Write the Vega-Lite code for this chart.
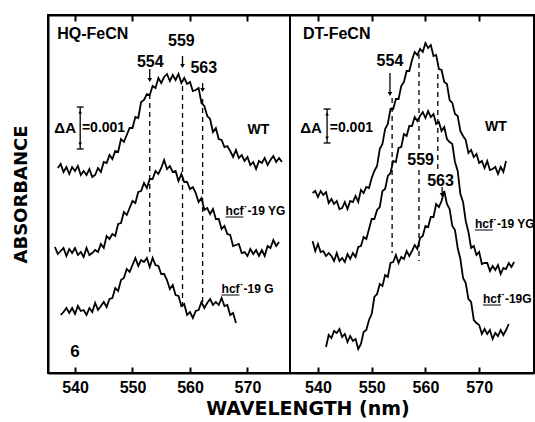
{
"$schema": "https://vega.github.io/schema/vega-lite/v6.json",
"padding": {"left": 11, "top": 13, "right": 0, "bottom": 0},
"background": "white",
"config": {"view": {"stroke": "black", "strokeWidth": 2}},
"spacing": 0,
"bounds": "flush",
"datasets": {
"Lspec": [
{"s":"WT","w":537,"a":205},{"s":"WT","w":537.5,"a":209},{"s":"WT","w":538,"a":201},{"s":"WT","w":538.5,"a":206},{"s":"WT","w":539,"a":199},{"s":"WT","w":539.5,"a":206},{"s":"WT","w":540,"a":202},{"s":"WT","w":540.5,"a":207},{"s":"WT","w":541,"a":198},{"s":"WT","w":541.5,"a":202},{"s":"WT","w":542,"a":198},{"s":"WT","w":542.5,"a":204},{"s":"WT","w":543,"a":196},{"s":"WT","w":543.5,"a":198},{"s":"WT","w":544,"a":205},{"s":"WT","w":544.5,"a":201},{"s":"WT","w":545,"a":211},{"s":"WT","w":545.5,"a":210},{"s":"WT","w":546,"a":218},{"s":"WT","w":546.5,"a":214},{"s":"WT","w":547,"a":222},{"s":"WT","w":547.5,"a":221},{"s":"WT","w":548,"a":234},{"s":"WT","w":548.5,"a":231},{"s":"WT","w":549,"a":238},{"s":"WT","w":549.5,"a":245},{"s":"WT","w":550,"a":245},{"s":"WT","w":550.5,"a":256},{"s":"WT","w":551,"a":255},{"s":"WT","w":551.5,"a":271},{"s":"WT","w":552,"a":273},{"s":"WT","w":552.5,"a":279},{"s":"WT","w":553,"a":278},{"s":"WT","w":553.5,"a":287},{"s":"WT","w":554,"a":285},{"s":"WT","w":554.5,"a":295},{"s":"WT","w":555,"a":290},{"s":"WT","w":555.5,"a":296},{"s":"WT","w":556,"a":299},{"s":"WT","w":556.5,"a":292},{"s":"WT","w":557,"a":298},{"s":"WT","w":557.5,"a":293},{"s":"WT","w":558,"a":299},{"s":"WT","w":558.5,"a":290},{"s":"WT","w":559,"a":295},{"s":"WT","w":559.5,"a":289},{"s":"WT","w":560,"a":291},{"s":"WT","w":560.5,"a":282},{"s":"WT","w":561,"a":283},{"s":"WT","w":561.5,"a":285},{"s":"WT","w":562,"a":270},{"s":"WT","w":562.5,"a":267},{"s":"WT","w":563,"a":257},{"s":"WT","w":563.5,"a":254},{"s":"WT","w":564,"a":241},{"s":"WT","w":564.5,"a":245},{"s":"WT","w":565,"a":234},{"s":"WT","w":565.5,"a":233},{"s":"WT","w":566,"a":226},{"s":"WT","w":566.5,"a":227},{"s":"WT","w":567,"a":222},{"s":"WT","w":567.5,"a":216},{"s":"WT","w":568,"a":223},{"s":"WT","w":568.5,"a":215},{"s":"WT","w":569,"a":218},{"s":"WT","w":569.5,"a":212},{"s":"WT","w":570,"a":216},{"s":"WT","w":570.5,"a":208},{"s":"WT","w":571,"a":211},{"s":"WT","w":571.5,"a":204},{"s":"WT","w":572,"a":212},{"s":"WT","w":572.5,"a":210},{"s":"WT","w":573,"a":215},{"s":"WT","w":573.5,"a":208},{"s":"WT","w":574,"a":213},{"s":"WT","w":574.5,"a":217},{"s":"WT","w":575,"a":211},{"s":"WT","w":575.5,"a":215},{"s":"WT","w":576,"a":211},
{"s":"YG","w":536.5,"a":126},{"s":"YG","w":537,"a":119},{"s":"YG","w":537.5,"a":122},{"s":"YG","w":538,"a":125},{"s":"YG","w":538.5,"a":117},{"s":"YG","w":539,"a":124},{"s":"YG","w":539.5,"a":120},{"s":"YG","w":540,"a":125},{"s":"YG","w":540.5,"a":118},{"s":"YG","w":541,"a":121},{"s":"YG","w":541.5,"a":116},{"s":"YG","w":542,"a":125},{"s":"YG","w":542.5,"a":118},{"s":"YG","w":543,"a":120},{"s":"YG","w":543.5,"a":123},{"s":"YG","w":544,"a":121},{"s":"YG","w":544.5,"a":129},{"s":"YG","w":545,"a":125},{"s":"YG","w":545.5,"a":137},{"s":"YG","w":546,"a":134},{"s":"YG","w":546.5,"a":139},{"s":"YG","w":547,"a":137},{"s":"YG","w":547.5,"a":149},{"s":"YG","w":548,"a":150},{"s":"YG","w":548.5,"a":161},{"s":"YG","w":549,"a":158},{"s":"YG","w":549.5,"a":165},{"s":"YG","w":550,"a":172},{"s":"YG","w":550.5,"a":170},{"s":"YG","w":551,"a":181},{"s":"YG","w":551.5,"a":182},{"s":"YG","w":552,"a":190},{"s":"YG","w":552.5,"a":185},{"s":"YG","w":553,"a":194},{"s":"YG","w":553.5,"a":194},{"s":"YG","w":554,"a":202},{"s":"YG","w":554.5,"a":199},{"s":"YG","w":555,"a":205},{"s":"YG","w":555.5,"a":213},{"s":"YG","w":556,"a":204},{"s":"YG","w":556.5,"a":207},{"s":"YG","w":557,"a":201},{"s":"YG","w":557.5,"a":202},{"s":"YG","w":558,"a":192},{"s":"YG","w":558.5,"a":199},{"s":"YG","w":559,"a":191},{"s":"YG","w":559.5,"a":191},{"s":"YG","w":560,"a":184},{"s":"YG","w":560.5,"a":186},{"s":"YG","w":561,"a":180},{"s":"YG","w":561.5,"a":171},{"s":"YG","w":562,"a":175},{"s":"YG","w":562.5,"a":163},{"s":"YG","w":563,"a":165},{"s":"YG","w":563.5,"a":159},{"s":"YG","w":564,"a":164},{"s":"YG","w":564.5,"a":154},{"s":"YG","w":565,"a":154},{"s":"YG","w":565.5,"a":144},{"s":"YG","w":566,"a":147},{"s":"YG","w":566.5,"a":139},{"s":"YG","w":567,"a":138},{"s":"YG","w":567.5,"a":127},{"s":"YG","w":568,"a":128},{"s":"YG","w":568.5,"a":129},{"s":"YG","w":569,"a":120},{"s":"YG","w":569.5,"a":121},{"s":"YG","w":570,"a":117},{"s":"YG","w":570.5,"a":124},{"s":"YG","w":571,"a":119},{"s":"YG","w":571.5,"a":123},{"s":"YG","w":572,"a":117},{"s":"YG","w":572.5,"a":123},{"s":"YG","w":573,"a":117},{"s":"YG","w":573.5,"a":127},{"s":"YG","w":574,"a":125},{"s":"YG","w":574.5,"a":133},{"s":"YG","w":575,"a":127},{"s":"YG","w":575.5,"a":131},
{"s":"G","w":537.5,"a":58},{"s":"G","w":538,"a":61},{"s":"G","w":538.5,"a":65},{"s":"G","w":539,"a":60},{"s":"G","w":539.5,"a":65},{"s":"G","w":540,"a":59},{"s":"G","w":540.5,"a":67},{"s":"G","w":541,"a":62},{"s":"G","w":541.5,"a":63},{"s":"G","w":542,"a":58},{"s":"G","w":542.5,"a":65},{"s":"G","w":543,"a":61},{"s":"G","w":543.5,"a":70},{"s":"G","w":544,"a":63},{"s":"G","w":544.5,"a":67},{"s":"G","w":545,"a":71},{"s":"G","w":545.5,"a":66},{"s":"G","w":546,"a":74},{"s":"G","w":546.5,"a":75},{"s":"G","w":547,"a":85},{"s":"G","w":547.5,"a":82},{"s":"G","w":548,"a":93},{"s":"G","w":548.5,"a":95},{"s":"G","w":549,"a":104},{"s":"G","w":549.5,"a":101},{"s":"G","w":550,"a":108},{"s":"G","w":550.5,"a":115},{"s":"G","w":551,"a":107},{"s":"G","w":551.5,"a":113},{"s":"G","w":552,"a":111},{"s":"G","w":552.5,"a":115},{"s":"G","w":553,"a":106},{"s":"G","w":553.5,"a":115},{"s":"G","w":554,"a":108},{"s":"G","w":554.5,"a":107},{"s":"G","w":555,"a":99},{"s":"G","w":555.5,"a":99},{"s":"G","w":556,"a":93},{"s":"G","w":556.5,"a":84},{"s":"G","w":557,"a":88},{"s":"G","w":557.5,"a":78},{"s":"G","w":558,"a":77},{"s":"G","w":558.5,"a":67},{"s":"G","w":559,"a":69},{"s":"G","w":559.5,"a":58},{"s":"G","w":560,"a":61},{"s":"G","w":560.5,"a":55},{"s":"G","w":561,"a":62},{"s":"G","w":561.5,"a":63},{"s":"G","w":562,"a":71},{"s":"G","w":562.5,"a":65},{"s":"G","w":563,"a":70},{"s":"G","w":563.5,"a":74},{"s":"G","w":564,"a":68},{"s":"G","w":564.5,"a":71},{"s":"G","w":565,"a":68},{"s":"G","w":565.5,"a":75},{"s":"G","w":566,"a":67},{"s":"G","w":566.5,"a":68},{"s":"G","w":567,"a":58},{"s":"G","w":567.5,"a":60},{"s":"G","w":568,"a":50}
],
"Rspec": [
{"s":"WT","w":539,"a":180},{"s":"WT","w":539.5,"a":182},{"s":"WT","w":540,"a":176},{"s":"WT","w":540.5,"a":182},{"s":"WT","w":541,"a":178},{"s":"WT","w":541.5,"a":181},{"s":"WT","w":542,"a":170},{"s":"WT","w":542.5,"a":174},{"s":"WT","w":543,"a":169},{"s":"WT","w":543.5,"a":172},{"s":"WT","w":544,"a":164},{"s":"WT","w":544.5,"a":165},{"s":"WT","w":545,"a":171},{"s":"WT","w":545.5,"a":164},{"s":"WT","w":546,"a":172},{"s":"WT","w":546.5,"a":171},{"s":"WT","w":547,"a":177},{"s":"WT","w":547.5,"a":171},{"s":"WT","w":548,"a":183},{"s":"WT","w":548.5,"a":180},{"s":"WT","w":549,"a":186},{"s":"WT","w":549.5,"a":185},{"s":"WT","w":550,"a":195},{"s":"WT","w":550.5,"a":202},{"s":"WT","w":551,"a":207},{"s":"WT","w":551.5,"a":224},{"s":"WT","w":552,"a":229},{"s":"WT","w":552.5,"a":244},{"s":"WT","w":553,"a":249},{"s":"WT","w":553.5,"a":264},{"s":"WT","w":554,"a":264},{"s":"WT","w":554.5,"a":274},{"s":"WT","w":555,"a":274},{"s":"WT","w":555.5,"a":287},{"s":"WT","w":556,"a":291},{"s":"WT","w":556.5,"a":302},{"s":"WT","w":557,"a":302},{"s":"WT","w":557.5,"a":313},{"s":"WT","w":558,"a":321},{"s":"WT","w":558.5,"a":318},{"s":"WT","w":559,"a":324},{"s":"WT","w":559.5,"a":321},{"s":"WT","w":560,"a":330},{"s":"WT","w":560.5,"a":325},{"s":"WT","w":561,"a":328},{"s":"WT","w":561.5,"a":317},{"s":"WT","w":562,"a":318},{"s":"WT","w":562.5,"a":304},{"s":"WT","w":563,"a":303},{"s":"WT","w":563.5,"a":291},{"s":"WT","w":564,"a":289},{"s":"WT","w":564.5,"a":273},{"s":"WT","w":565,"a":270},{"s":"WT","w":565.5,"a":259},{"s":"WT","w":566,"a":257},{"s":"WT","w":566.5,"a":242},{"s":"WT","w":567,"a":237},{"s":"WT","w":567.5,"a":233},{"s":"WT","w":568,"a":220},{"s":"WT","w":568.5,"a":223},{"s":"WT","w":569,"a":216},{"s":"WT","w":569.5,"a":219},{"s":"WT","w":570,"a":210},{"s":"WT","w":570.5,"a":212},{"s":"WT","w":571,"a":205},{"s":"WT","w":571.5,"a":212},{"s":"WT","w":572,"a":203},{"s":"WT","w":572.5,"a":204},{"s":"WT","w":573,"a":206},{"s":"WT","w":573.5,"a":199},{"s":"WT","w":574,"a":206},{"s":"WT","w":574.5,"a":201},{"s":"WT","w":575,"a":212},
{"s":"YG","w":539,"a":132},{"s":"YG","w":539.5,"a":122},{"s":"YG","w":540,"a":129},{"s":"YG","w":540.5,"a":121},{"s":"YG","w":541,"a":122},{"s":"YG","w":541.5,"a":117},{"s":"YG","w":542,"a":120},{"s":"YG","w":542.5,"a":117},{"s":"YG","w":543,"a":112},{"s":"YG","w":543.5,"a":120},{"s":"YG","w":544,"a":112},{"s":"YG","w":544.5,"a":115},{"s":"YG","w":545,"a":111},{"s":"YG","w":545.5,"a":119},{"s":"YG","w":546,"a":114},{"s":"YG","w":546.5,"a":120},{"s":"YG","w":547,"a":116},{"s":"YG","w":547.5,"a":126},{"s":"YG","w":548,"a":127},{"s":"YG","w":548.5,"a":136},{"s":"YG","w":549,"a":134},{"s":"YG","w":549.5,"a":144},{"s":"YG","w":550,"a":154},{"s":"YG","w":550.5,"a":154},{"s":"YG","w":551,"a":163},{"s":"YG","w":551.5,"a":166},{"s":"YG","w":552,"a":182},{"s":"YG","w":552.5,"a":184},{"s":"YG","w":553,"a":197},{"s":"YG","w":553.5,"a":200},{"s":"YG","w":554,"a":212},{"s":"YG","w":554.5,"a":211},{"s":"YG","w":555,"a":225},{"s":"YG","w":555.5,"a":226},{"s":"YG","w":556,"a":239},{"s":"YG","w":556.5,"a":237},{"s":"YG","w":557,"a":247},{"s":"YG","w":557.5,"a":247},{"s":"YG","w":558,"a":256},{"s":"YG","w":558.5,"a":252},{"s":"YG","w":559,"a":257},{"s":"YG","w":559.5,"a":261},{"s":"YG","w":560,"a":255},{"s":"YG","w":560.5,"a":262},{"s":"YG","w":561,"a":256},{"s":"YG","w":561.5,"a":259},{"s":"YG","w":562,"a":249},{"s":"YG","w":562.5,"a":251},{"s":"YG","w":563,"a":242},{"s":"YG","w":563.5,"a":246},{"s":"YG","w":564,"a":234},{"s":"YG","w":564.5,"a":231},{"s":"YG","w":565,"a":229},{"s":"YG","w":565.5,"a":211},{"s":"YG","w":566,"a":202},{"s":"YG","w":566.5,"a":179},{"s":"YG","w":567,"a":171},{"s":"YG","w":567.5,"a":152},{"s":"YG","w":568,"a":141},{"s":"YG","w":568.5,"a":125},{"s":"YG","w":569,"a":127},{"s":"YG","w":569.5,"a":118},{"s":"YG","w":570,"a":121},{"s":"YG","w":570.5,"a":109},{"s":"YG","w":571,"a":110},{"s":"YG","w":571.5,"a":110},{"s":"YG","w":572,"a":102},{"s":"YG","w":572.5,"a":107},{"s":"YG","w":573,"a":103},{"s":"YG","w":573.5,"a":108},{"s":"YG","w":574,"a":99},{"s":"YG","w":574.5,"a":105},{"s":"YG","w":575,"a":104},{"s":"YG","w":575.5,"a":110},{"s":"YG","w":576,"a":106},{"s":"YG","w":576.5,"a":111},
{"s":"G","w":541.5,"a":26},{"s":"G","w":542,"a":38},{"s":"G","w":542.5,"a":35},{"s":"G","w":543,"a":42},{"s":"G","w":543.5,"a":40},{"s":"G","w":544,"a":44},{"s":"G","w":544.5,"a":36},{"s":"G","w":545,"a":39},{"s":"G","w":545.5,"a":31},{"s":"G","w":546,"a":37},{"s":"G","w":546.5,"a":32},{"s":"G","w":547,"a":34},{"s":"G","w":547.5,"a":24},{"s":"G","w":548,"a":29},{"s":"G","w":548.5,"a":41},{"s":"G","w":549,"a":43},{"s":"G","w":549.5,"a":53},{"s":"G","w":550,"a":59},{"s":"G","w":550.5,"a":76},{"s":"G","w":551,"a":79},{"s":"G","w":551.5,"a":89},{"s":"G","w":552,"a":87},{"s":"G","w":552.5,"a":98},{"s":"G","w":553,"a":96},{"s":"G","w":553.5,"a":110},{"s":"G","w":554,"a":111},{"s":"G","w":554.5,"a":118},{"s":"G","w":555,"a":110},{"s":"G","w":555.5,"a":116},{"s":"G","w":556,"a":114},{"s":"G","w":556.5,"a":122},{"s":"G","w":557,"a":117},{"s":"G","w":557.5,"a":122},{"s":"G","w":558,"a":128},{"s":"G","w":558.5,"a":124},{"s":"G","w":559,"a":135},{"s":"G","w":559.5,"a":137},{"s":"G","w":560,"a":147},{"s":"G","w":560.5,"a":146},{"s":"G","w":561,"a":156},{"s":"G","w":561.5,"a":156},{"s":"G","w":562,"a":169},{"s":"G","w":562.5,"a":166},{"s":"G","w":563,"a":172},{"s":"G","w":563.5,"a":182},{"s":"G","w":564,"a":169},{"s":"G","w":564.5,"a":164},{"s":"G","w":565,"a":147},{"s":"G","w":565.5,"a":143},{"s":"G","w":566,"a":125},{"s":"G","w":566.5,"a":114},{"s":"G","w":567,"a":95},{"s":"G","w":567.5,"a":90},{"s":"G","w":568,"a":74},{"s":"G","w":568.5,"a":71},{"s":"G","w":569,"a":53},{"s":"G","w":569.5,"a":50},{"s":"G","w":570,"a":48},{"s":"G","w":570.5,"a":39},{"s":"G","w":571,"a":44},{"s":"G","w":571.5,"a":39},{"s":"G","w":572,"a":43},{"s":"G","w":572.5,"a":34},{"s":"G","w":573,"a":40},{"s":"G","w":573.5,"a":37},{"s":"G","w":574,"a":43},{"s":"G","w":574.5,"a":38},{"s":"G","w":575,"a":43},{"s":"G","w":575.5,"a":49}
],
"Ltext": [
{"k":"title","t":"HQ-FeCN","w":536.9,"a":339.5},
{"k":"peak","t":"554","w":553.1,"a":311},{"k":"peak","t":"559","w":558.5,"a":332.5},{"k":"peak","t":"563","w":562.4,"a":305},
{"k":"wt","t":"WT","w":571.9,"a":243},
{"k":"hcf","t":"hcf˙-19 YG","w":566.2,"a":158},{"k":"hcf","t":"hcf˙-19 G","w":565.5,"a":80},
{"k":"dA","t":"ΔA","w":540.17,"a":245},{"k":"val","t":"=0.001","w":541.2,"a":245},
{"k":"num","t":"6","w":540,"a":21}
],
"Rtext": [
{"k":"title","t":"DT-FeCN","w":537.2,"a":339.5},
{"k":"peak","t":"554","w":553.4,"a":312},{"k":"peak","t":"559","w":559.1,"a":213},{"k":"peak","t":"563","w":562.8,"a":192},
{"k":"wt","t":"WT","w":573.1,"a":246},
{"k":"hcf","t":"hcf˙-19 YG","w":569.2,"a":145},{"k":"hcf","t":"hcf˙-19G","w":570.7,"a":70},
{"k":"dA","t":"ΔA","w":540.74,"a":245},{"k":"val","t":"=0.001","w":542.2,"a":245}
],
"Ldash": [{"w":553.0,"a1":279,"a2":117},{"w":558.7,"a1":287,"a2":64},{"w":562.2,"a1":274,"a2":69}],
"Rdash": [{"w":553.8,"a1":275,"a2":120},{"w":558.8,"a1":319,"a2":221},{"w":558.8,"a1":203,"a2":112},{"w":562.3,"a1":299,"a2":201}],
"Larrow": [{"w":553.0,"a1":304,"a2":293},{"w":558.7,"a1":317,"a2":307},{"w":562.2,"a1":290,"a2":283}],
"Rarrow": [{"w":553.4,"a1":300,"a2":279},{"w":563.1,"a1":186,"a2":178}],
"Lbar": [{"w":540.9,"a1":266,"a2":224}],
"Rbar": [{"w":541.7,"a1":264,"a2":230}],
"Lul": [{"w1":566.2,"w2":569.3,"a":156},{"w1":565.5,"w2":568.6,"a":78}],
"Rul": [{"w1":569.2,"w2":572.55,"a":143},{"w1":570.7,"w2":574.05,"a":68}]
},
"hconcat": [
{
"width": 242, "height": 358,
"resolve": {"axis": {"x": "independent"}},
"layer": [
{"data": {"name": "Lspec"},
 "mark": {"type": "line", "color": "black", "strokeWidth": 1.8},
 "encoding": {
  "x": {"field": "w", "type": "quantitative", "scale": {"domain": [535.3, 577.4], "nice": false, "zero": false},
        "axis": {"orient": "bottom", "values": [540, 550, 560, 570], "grid": false, "tickSize": -6, "tickWidth": 2, "tickColor": "black", "domainColor": "black", "domainWidth": 2, "labelFont": "Liberation Sans", "labelFontWeight": "bold", "labelFontSize": 16, "labelColor": "black", "labelPadding": 12, "title": "WAVELENGTH  (nm)", "titleFont": "DejaVu Sans", "titleFontSize": 19, "titleFontWeight": "bold", "titleColor": "black", "titleX": 259.5, "titleY": 35.5, "titleAlign": "center", "titleBaseline": "middle", "titleAnchor": null}},
  "y": {"field": "a", "type": "quantitative", "title": "ABSORBANCE", "scale": {"domain": [0, 358], "nice": false, "zero": false},
        "axis": {"orient": "left", "labels": false, "ticks": false, "domain": true, "domainColor": "black", "domainWidth": 2, "grid": false, "titleFont": "DejaVu Sans", "titleFontSize": 18, "titleFontWeight": "bold", "titleColor": "black", "titlePadding": 18, "titleAngle": -90, "titleBaseline": "bottom"}},
  "detail": {"field": "s"}
 }},
{"data": {"name": "Ldash"},
 "mark": {"type": "rule", "color": "black", "strokeWidth": 1.3, "strokeDash": [5, 4]},
 "encoding": {
  "x": {"field": "w", "type": "quantitative", "axis": {"orient": "top", "values": [540, 550, 560, 570], "labels": false, "grid": false, "tickSize": -6, "tickWidth": 2, "tickColor": "black", "domainColor": "black", "domainWidth": 2, "title": null}},
  "y": {"field": "a1", "type": "quantitative"},
  "y2": {"field": "a2"}
 }},
{"data": {"name": "Larrow"},
 "mark": {"type": "rule", "color": "black", "strokeWidth": 1.3},
 "encoding": {"x": {"field": "w", "type": "quantitative", "axis": null}, "y": {"field": "a1", "type": "quantitative"}, "y2": {"field": "a2"}}},
{"data": {"name": "Larrow"},
 "mark": {"type": "point", "shape": "triangle-down", "filled": true, "color": "black", "size": 22, "opacity": 1},
 "encoding": {"x": {"field": "w", "type": "quantitative", "axis": null}, "y": {"field": "a2", "type": "quantitative"}}},
{"data": {"name": "Lbar"},
 "mark": {"type": "rule", "color": "black", "strokeWidth": 1.3},
 "encoding": {"x": {"field": "w", "type": "quantitative", "axis": null}, "y": {"field": "a1", "type": "quantitative"}, "y2": {"field": "a2"}}},
{"data": {"name": "Lbar"},
 "mark": {"type": "tick", "orient": "horizontal", "color": "black", "size": 7, "thickness": 1.3, "opacity": 1},
 "encoding": {"x": {"field": "w", "type": "quantitative", "axis": null}, "y": {"field": "a1", "type": "quantitative"}}},
{"data": {"name": "Lbar"},
 "mark": {"type": "tick", "orient": "horizontal", "color": "black", "size": 7, "thickness": 1.3, "opacity": 1},
 "encoding": {"x": {"field": "w", "type": "quantitative", "axis": null}, "y": {"field": "a2", "type": "quantitative"}}},
{"data": {"name": "Lbar"},
 "mark": {"type": "point", "shape": "triangle-up", "filled": true, "color": "black", "size": 14, "opacity": 1, "yOffset": 5},
 "encoding": {"x": {"field": "w", "type": "quantitative", "axis": null}, "y": {"field": "a1", "type": "quantitative"}}},
{"data": {"name": "Lbar"},
 "mark": {"type": "point", "shape": "triangle-down", "filled": true, "color": "black", "size": 14, "opacity": 1, "yOffset": -5},
 "encoding": {"x": {"field": "w", "type": "quantitative", "axis": null}, "y": {"field": "a2", "type": "quantitative"}}},
{"data": {"name": "Lul"},
 "mark": {"type": "rule", "color": "black", "strokeWidth": 1},
 "encoding": {"x": {"field": "w1", "type": "quantitative", "axis": null}, "x2": {"field": "w2"}, "y": {"field": "a", "type": "quantitative"}}},
{"data": {"name": "Ltext"}, "transform": [{"filter": "datum.k == 'title'"}],
 "mark": {"type": "text", "font": "Liberation Sans", "fontWeight": "bold", "fontSize": 16, "align": "left", "baseline": "middle", "color": "black"},
 "encoding": {"x": {"field": "w", "type": "quantitative", "axis": null}, "y": {"field": "a", "type": "quantitative"}, "text": {"field": "t"}}},
{"data": {"name": "Ltext"}, "transform": [{"filter": "datum.k == 'peak'"}],
 "mark": {"type": "text", "font": "Liberation Sans", "fontWeight": "bold", "fontSize": 16, "align": "center", "baseline": "middle", "color": "black"},
 "encoding": {"x": {"field": "w", "type": "quantitative", "axis": null}, "y": {"field": "a", "type": "quantitative"}, "text": {"field": "t"}}},
{"data": {"name": "Ltext"}, "transform": [{"filter": "datum.k == 'wt'"}],
 "mark": {"type": "text", "font": "Liberation Sans", "fontWeight": "bold", "fontSize": 14, "align": "center", "baseline": "middle", "color": "black"},
 "encoding": {"x": {"field": "w", "type": "quantitative", "axis": null}, "y": {"field": "a", "type": "quantitative"}, "text": {"field": "t"}}},
{"data": {"name": "Ltext"}, "transform": [{"filter": "datum.k == 'hcf'"}],
 "mark": {"type": "text", "font": "Liberation Sans", "fontWeight": "bold", "fontSize": 12, "align": "left", "baseline": "alphabetic", "color": "black"},
 "encoding": {"x": {"field": "w", "type": "quantitative", "axis": null}, "y": {"field": "a", "type": "quantitative"}, "text": {"field": "t"}}},
{"data": {"name": "Ltext"}, "transform": [{"filter": "datum.k == 'dA'"}],
 "mark": {"type": "text", "font": "Liberation Sans", "fontWeight": "bold", "fontSize": 15, "align": "right", "baseline": "middle", "color": "black"},
 "encoding": {"x": {"field": "w", "type": "quantitative", "axis": null}, "y": {"field": "a", "type": "quantitative"}, "text": {"field": "t"}}},
{"data": {"name": "Ltext"}, "transform": [{"filter": "datum.k == 'val'"}],
 "mark": {"type": "text", "font": "Liberation Sans", "fontWeight": "bold", "fontSize": 14, "align": "left", "baseline": "middle", "color": "black"},
 "encoding": {"x": {"field": "w", "type": "quantitative", "axis": null}, "y": {"field": "a", "type": "quantitative"}, "text": {"field": "t"}}},
{"data": {"name": "Ltext"}, "transform": [{"filter": "datum.k == 'num'"}],
 "mark": {"type": "text", "font": "Liberation Sans", "fontWeight": "bold", "fontSize": 17, "align": "center", "baseline": "middle", "color": "black"},
 "encoding": {"x": {"field": "w", "type": "quantitative", "axis": null}, "y": {"field": "a", "type": "quantitative"}, "text": {"field": "t"}}}
]
},
{
"width": 244, "height": 358,
"resolve": {"axis": {"x": "independent"}},
"layer": [
{"data": {"name": "Rspec"},
 "mark": {"type": "line", "color": "black", "strokeWidth": 1.8},
 "encoding": {
  "x": {"field": "w", "type": "quantitative", "scale": {"domain": [534.8, 580.2], "nice": false, "zero": false},
        "axis": {"orient": "bottom", "values": [540, 550, 560, 570], "grid": false, "tickSize": -6, "tickWidth": 2, "tickColor": "black", "domainColor": "black", "domainWidth": 2, "labelFont": "Liberation Sans", "labelFontWeight": "bold", "labelFontSize": 16, "labelColor": "black", "labelPadding": 12, "title": null}},
  "y": {"field": "a", "type": "quantitative", "scale": {"domain": [0, 358], "nice": false, "zero": false}, "axis": null},
  "detail": {"field": "s"}
 }},
{"data": {"name": "Rdash"},
 "mark": {"type": "rule", "color": "black", "strokeWidth": 1.3, "strokeDash": [5, 4]},
 "encoding": {
  "x": {"field": "w", "type": "quantitative", "axis": {"orient": "top", "values": [540, 550, 560, 570], "labels": false, "grid": false, "tickSize": -6, "tickWidth": 2, "tickColor": "black", "domainColor": "black", "domainWidth": 2, "title": null}},
  "y": {"field": "a1", "type": "quantitative", "axis": null},
  "y2": {"field": "a2"}
 }},
{"data": {"name": "Rarrow"},
 "mark": {"type": "rule", "color": "black", "strokeWidth": 1.3},
 "encoding": {"x": {"field": "w", "type": "quantitative", "axis": null}, "y": {"field": "a1", "type": "quantitative", "axis": null}, "y2": {"field": "a2"}}},
{"data": {"name": "Rarrow"},
 "mark": {"type": "point", "shape": "triangle-down", "filled": true, "color": "black", "size": 22, "opacity": 1},
 "encoding": {"x": {"field": "w", "type": "quantitative", "axis": null}, "y": {"field": "a2", "type": "quantitative", "axis": null}}},
{"data": {"name": "Rbar"},
 "mark": {"type": "rule", "color": "black", "strokeWidth": 1.3},
 "encoding": {"x": {"field": "w", "type": "quantitative", "axis": null}, "y": {"field": "a1", "type": "quantitative", "axis": null}, "y2": {"field": "a2"}}},
{"data": {"name": "Rbar"},
 "mark": {"type": "tick", "orient": "horizontal", "color": "black", "size": 7, "thickness": 1.3, "opacity": 1},
 "encoding": {"x": {"field": "w", "type": "quantitative", "axis": null}, "y": {"field": "a1", "type": "quantitative", "axis": null}}},
{"data": {"name": "Rbar"},
 "mark": {"type": "tick", "orient": "horizontal", "color": "black", "size": 7, "thickness": 1.3, "opacity": 1},
 "encoding": {"x": {"field": "w", "type": "quantitative", "axis": null}, "y": {"field": "a2", "type": "quantitative", "axis": null}}},
{"data": {"name": "Rbar"},
 "mark": {"type": "point", "shape": "triangle-up", "filled": true, "color": "black", "size": 14, "opacity": 1, "yOffset": 5},
 "encoding": {"x": {"field": "w", "type": "quantitative", "axis": null}, "y": {"field": "a1", "type": "quantitative", "axis": null}}},
{"data": {"name": "Rbar"},
 "mark": {"type": "point", "shape": "triangle-down", "filled": true, "color": "black", "size": 14, "opacity": 1, "yOffset": -5},
 "encoding": {"x": {"field": "w", "type": "quantitative", "axis": null}, "y": {"field": "a2", "type": "quantitative", "axis": null}}},
{"data": {"name": "Rul"},
 "mark": {"type": "rule", "color": "black", "strokeWidth": 1},
 "encoding": {"x": {"field": "w1", "type": "quantitative", "axis": null}, "x2": {"field": "w2"}, "y": {"field": "a", "type": "quantitative", "axis": null}}},
{"data": {"name": "Rtext"}, "transform": [{"filter": "datum.k == 'title'"}],
 "mark": {"type": "text", "font": "Liberation Sans", "fontWeight": "bold", "fontSize": 16, "align": "left", "baseline": "middle", "color": "black"},
 "encoding": {"x": {"field": "w", "type": "quantitative", "axis": null}, "y": {"field": "a", "type": "quantitative", "axis": null}, "text": {"field": "t"}}},
{"data": {"name": "Rtext"}, "transform": [{"filter": "datum.k == 'peak'"}],
 "mark": {"type": "text", "font": "Liberation Sans", "fontWeight": "bold", "fontSize": 16, "align": "center", "baseline": "middle", "color": "black"},
 "encoding": {"x": {"field": "w", "type": "quantitative", "axis": null}, "y": {"field": "a", "type": "quantitative", "axis": null}, "text": {"field": "t"}}},
{"data": {"name": "Rtext"}, "transform": [{"filter": "datum.k == 'wt'"}],
 "mark": {"type": "text", "font": "Liberation Sans", "fontWeight": "bold", "fontSize": 14, "align": "center", "baseline": "middle", "color": "black"},
 "encoding": {"x": {"field": "w", "type": "quantitative", "axis": null}, "y": {"field": "a", "type": "quantitative", "axis": null}, "text": {"field": "t"}}},
{"data": {"name": "Rtext"}, "transform": [{"filter": "datum.k == 'hcf'"}],
 "mark": {"type": "text", "font": "Liberation Sans", "fontWeight": "bold", "fontSize": 12, "align": "left", "baseline": "alphabetic", "color": "black"},
 "encoding": {"x": {"field": "w", "type": "quantitative", "axis": null}, "y": {"field": "a", "type": "quantitative", "axis": null}, "text": {"field": "t"}}},
{"data": {"name": "Rtext"}, "transform": [{"filter": "datum.k == 'dA'"}],
 "mark": {"type": "text", "font": "Liberation Sans", "fontWeight": "bold", "fontSize": 15, "align": "right", "baseline": "middle", "color": "black"},
 "encoding": {"x": {"field": "w", "type": "quantitative", "axis": null}, "y": {"field": "a", "type": "quantitative", "axis": null}, "text": {"field": "t"}}},
{"data": {"name": "Rtext"}, "transform": [{"filter": "datum.k == 'val'"}],
 "mark": {"type": "text", "font": "Liberation Sans", "fontWeight": "bold", "fontSize": 14, "align": "left", "baseline": "middle", "color": "black"},
 "encoding": {"x": {"field": "w", "type": "quantitative", "axis": null}, "y": {"field": "a", "type": "quantitative", "axis": null}, "text": {"field": "t"}}}
]
}
]
}
